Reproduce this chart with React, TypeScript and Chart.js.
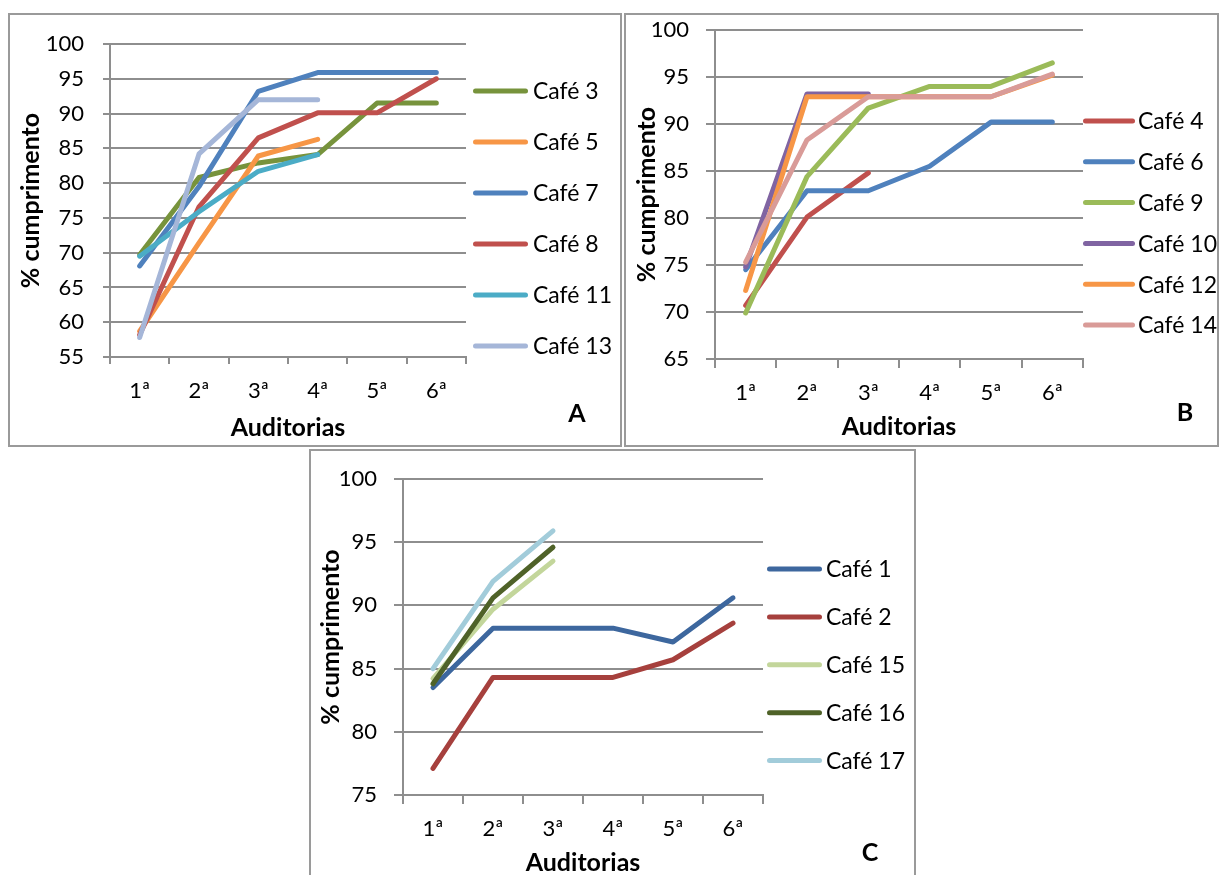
import React, { useEffect, useRef } from "react";
import { Chart, registerables } from "chart.js";

Chart.register(...registerables);

// ---------- data ----------
const auditorias = ["1ª", "2ª", "3ª", "4ª", "5ª", "6ª"];

// Panel A
const cafe3 = [69.7, 80.8, 82.9, 84.1, 91.5, 91.5];
const cafe5 = [58.7, 71.4, 83.9, 86.3, null, null];
const cafe7 = [68.1, 79.5, 93.2, 95.9, 95.9, 95.9];
const cafe8 = [58.2, 76.6, 86.5, 90.1, 90.1, 95.0];
const cafe11 = [69.5, 75.9, 81.7, 84.1, null, null];
const cafe13 = [57.8, 84.2, 92.0, 92.0, null, null];

// Panel B
const cafe4 = [70.7, 80.1, 84.8, null, null, null];
const cafe6 = [74.5, 82.9, 82.9, 85.5, 90.2, 90.2];
const cafe9 = [69.9, 84.4, 91.7, 94.0, 94.0, 96.5];
const cafe10 = [74.8, 93.2, 93.2, null, null, null];
const cafe12 = [72.3, 92.9, 92.9, 92.9, 92.9, 95.2];
const cafe14 = [75.3, 88.3, 92.9, 92.9, 92.9, 95.3];

// Panel C
const cafe1 = [83.5, 88.2, 88.2, 88.2, 87.1, 90.6];
const cafe2 = [77.1, 84.3, 84.3, 84.3, 85.7, 88.6];
const cafe15 = [84.2, 89.7, 93.5, null, null, null];
const cafe16 = [83.8, 90.6, 94.6, null, null, null];
const cafe17 = [85.0, 91.9, 95.9, null, null, null];

const yTitle = "% cumprimento";
const xTitle = "Auditorias";

const FONT = 'Lato, "Open Sans", "Noto Sans", sans-serif';
const GRID = "#8e8e8e";

const sideLegend = {
  id: "sideLegend",
  afterDraw(chart: any, _args: any, opts: any) {
    const ctx = chart.ctx;
    ctx.save();
    chart.data.datasets.forEach((ds: any, i: number) => {
      const y = opts.y0 + i * opts.dy;
      ctx.strokeStyle = ds.borderColor;
      ctx.lineWidth = 5;
      ctx.lineCap = "round";
      ctx.beginPath();
      ctx.moveTo(opts.x0 + 2.5, y);
      ctx.lineTo(opts.x1 - 2.5, y);
      ctx.stroke();
      ctx.fillStyle = "#000";
      ctx.font = `23px ${FONT}`;
      ctx.textAlign = "left";
      ctx.textBaseline = "middle";
      ctx.fillText(ds.label, opts.tx, y + 1);
    });
    ctx.font = `bold 25px ${FONT}`;
    ctx.textAlign = "center";
    ctx.textBaseline = "middle";
    ctx.fillStyle = "#000";
    ctx.fillText(opts.letter, opts.lx, opts.ly);
    ctx.restore();
  },
};

type PanelCfg = {
  box: { x: number; y: number; w: number; h: number };
  cw: number;
  ch: number;
  yMin: number;
  yMax: number;
  series: { label: string; data: (number | null)[]; color: string }[];
  yWidth: number;
  xHeight: number;
  pad: { top: number; right: number; bottom: number };
  yTickLen: number;
  yTickPad: number;
  xTickLen: number;
  xTickPad: number;
  yTitlePad: number;
  legend: any;
};

const panels: PanelCfg[] = [
  {
    box: { x: 8, y: 13, w: 614, h: 434 },
    cw: 610,
    ch: 430,
    yMin: 55,
    yMax: 100,
    series: [
      { label: "Café 3", data: cafe3, color: "#77933C" },
      { label: "Café 5", data: cafe5, color: "#F79646" },
      { label: "Café 7", data: cafe7, color: "#4F81BD" },
      { label: "Café 8", data: cafe8, color: "#C0504D" },
      { label: "Café 11", data: cafe11, color: "#4BACC6" },
      { label: "Café 13", data: cafe13, color: "#A5B6D8" },
    ],
    yWidth: 100,
    xHeight: 86,
    pad: { top: 29, right: 154, bottom: 2 },
    yTickLen: 7,
    yTickPad: 19,
    xTickLen: 7,
    xTickPad: 14,
    yTitlePad: 6,
    legend: { x0: 463, x1: 518, tx: 523, y0: 76, dy: 51, letter: "A", lx: 567, ly: 399 },
  },
  {
    box: { x: 624, y: 13, w: 595, h: 434 },
    cw: 591,
    ch: 430,
    yMin: 65,
    yMax: 100,
    series: [
      { label: "Café 4", data: cafe4, color: "#C0504D" },
      { label: "Café 6", data: cafe6, color: "#4F81BD" },
      { label: "Café 9", data: cafe9, color: "#9BBB59" },
      { label: "Café 10", data: cafe10, color: "#8064A2" },
      { label: "Café 12", data: cafe12, color: "#F79646" },
      { label: "Café 14", data: cafe14, color: "#D99B98" },
    ],
    yWidth: 89,
    xHeight: 83,
    pad: { top: 15, right: 134, bottom: 3 },
    yTickLen: 9,
    yTickPad: 17,
    xTickLen: 9,
    xTickPad: 12,
    yTitlePad: 6,
    legend: { x0: 457, x1: 509, tx: 512, y0: 106, dy: 40.8, letter: "B", lx: 559, ly: 398 },
  },
  {
    box: { x: 309, y: 449, w: 607, h: 460 },
    cw: 603,
    ch: 440,
    yMin: 75,
    yMax: 100,
    series: [
      { label: "Café 1", data: cafe1, color: "#3D679E" },
      { label: "Café 2", data: cafe2, color: "#A6403D" },
      { label: "Café 15", data: cafe15, color: "#C3D69B" },
      { label: "Café 16", data: cafe16, color: "#4F6228" },
      { label: "Café 17", data: cafe17, color: "#A2CCDA" },
    ],
    yWidth: 92,
    xHeight: 83,
    pad: { top: 28, right: 151, bottom: 13 },
    yTickLen: 9,
    yTickPad: 17,
    xTickLen: 9,
    xTickPad: 12,
    yTitlePad: 5,
    legend: { x0: 456, x1: 511, tx: 515, y0: 118, dy: 47.9, letter: "C", lx: 559, ly: 402 },
  },
];

function Panel({ cfg }: { cfg: PanelCfg }) {
  const ref = useRef<HTMLCanvasElement | null>(null);
  useEffect(() => {
    if (!ref.current) return;
    const n = cfg.series.length;
    const chart = new Chart(ref.current, {
      type: "line",
      data: {
        labels: auditorias,
        datasets: cfg.series.map((s, i) => ({
          label: s.label,
          data: s.data,
          borderColor: s.color,
          backgroundColor: s.color,
          borderWidth: 5,
          borderCapStyle: "round",
          borderJoinStyle: "round",
          pointRadius: 0,
          pointHoverRadius: 0,
          tension: 0,
          fill: false,
          spanGaps: false,
          order: n - i,
        })),
      },
      options: {
        responsive: false,
        animation: false,
        devicePixelRatio: 1,
        events: [],
        layout: { padding: { left: 0, top: cfg.pad.top, right: cfg.pad.right, bottom: cfg.pad.bottom } },
        plugins: {
          legend: { display: false },
          tooltip: { enabled: false },
          title: { display: false },
          sideLegend: cfg.legend,
        } as any,
        scales: {
          x: {
            type: "category",
            offset: true,
            grid: {
              offset: true,
              drawOnChartArea: false,
              drawTicks: true,
              tickLength: cfg.xTickLen,
              color: GRID,
              lineWidth: 2,
            },
            border: { display: true, color: GRID, width: 2 },
            ticks: { color: "#000", font: { family: FONT, size: 22 }, padding: cfg.xTickPad, maxRotation: 0, autoSkip: false },
            title: {
              display: true,
              text: xTitle,
              color: "#000",
              font: { family: FONT, size: 25, weight: "bold" },
              padding: { top: 0, bottom: 0 },
            },
            afterFit: (s: any) => {
              s.height = cfg.xHeight;
              s.paddingLeft = 0;
              s.paddingRight = 0;
            },
          },
          y: {
            min: cfg.yMin,
            max: cfg.yMax,
            grid: { color: GRID, lineWidth: 2, drawTicks: true, tickLength: cfg.yTickLen },
            border: { display: true, color: GRID, width: 2 },
            ticks: { stepSize: 5, color: "#000", font: { family: FONT, size: 22 }, padding: cfg.yTickPad },
            title: {
              display: true,
              text: yTitle,
              color: "#000",
              font: { family: FONT, size: 25, weight: "bold" },
              padding: { top: cfg.yTitlePad, bottom: 0 },
            },
            afterFit: (s: any) => {
              s.width = cfg.yWidth;
              s.paddingTop = 0;
              s.paddingBottom = 0;
            },
          },
        },
      } as any,
      plugins: [sideLegend as any],
    });
    return () => chart.destroy();
  }, [cfg]);

  return (
    <div
      style={{
        position: "absolute",
        left: cfg.box.x,
        top: cfg.box.y,
        width: cfg.box.w,
        height: cfg.box.h,
        border: "2px solid #9a9a9a",
        boxSizing: "border-box",
        overflow: "hidden",
        background: "#fff",
      }}
    >
      <canvas
        ref={ref}
        width={cfg.cw}
        height={cfg.ch}
        style={{ position: "absolute", left: 0, top: 0, width: cfg.cw, height: cfg.ch }}
      />
    </div>
  );
}

export default function App() {
  return (
    <div
      style={{
        position: "absolute",
        left: 0,
        top: 0,
        width: 1219,
        height: 875,
        overflow: "hidden",
        background: "#fff",
      }}
    >
      {panels.map((p, i) => (
        <Panel key={i} cfg={p} />
      ))}
    </div>
  );
}
